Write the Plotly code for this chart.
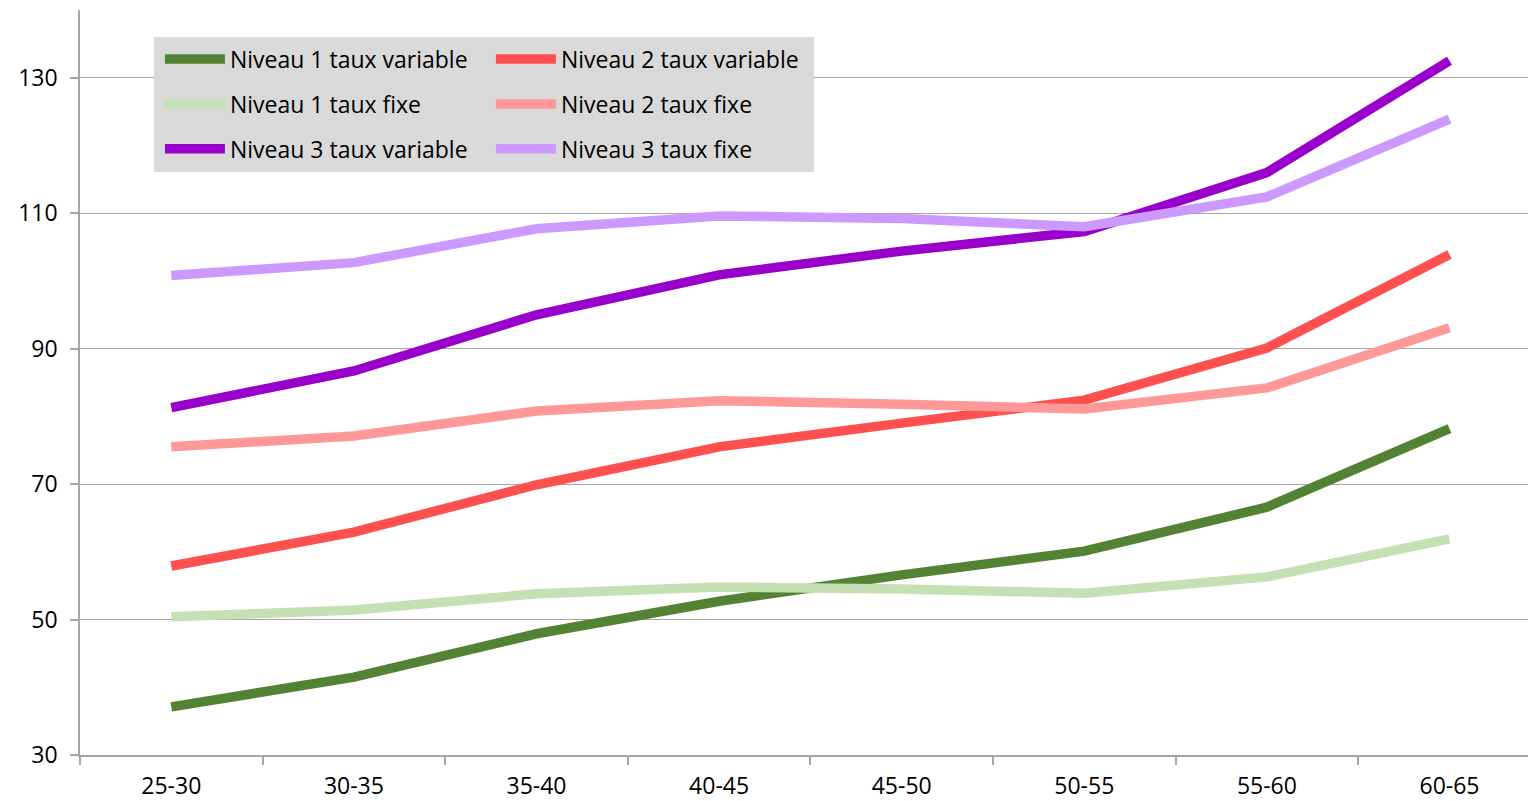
import plotly.graph_objects as go

# Age brackets on the category axis
age_groups = ["25-30", "30-35", "35-40", "40-45", "45-50", "50-55", "55-60", "60-65"]

# Series values per age bracket
niveau1_variable = [37.1, 41.5, 47.9, 52.7, 56.6, 60.1, 66.6, 78.2]
niveau1_fixe = [50.4, 51.4, 53.8, 54.8, 54.5, 53.9, 56.3, 61.9]
niveau2_variable = [57.9, 62.9, 69.9, 75.5, 79.0, 82.4, 90.1, 103.9]
niveau2_fixe = [75.5, 77.1, 80.8, 82.3, 81.8, 81.1, 84.2, 93.1]
niveau3_variable = [81.3, 86.7, 95.0, 100.9, 104.4, 107.3, 116.0, 132.5]
niveau3_fixe = [100.8, 102.7, 107.7, 109.6, 109.2, 108.0, 112.4, 123.9]

y_ticks = [30, 50, 70, 90, 110, 130]

# name, values, colour, legend column
series = [
    ("Niveau 1 taux variable", niveau1_variable, "#548235", "legend"),
    ("Niveau 1 taux fixe", niveau1_fixe, "#c5e0b4", "legend"),
    ("Niveau 2 taux variable", niveau2_variable, "#ff5050", "legend2"),
    ("Niveau 2 taux fixe", niveau2_fixe, "#ff9999", "legend2"),
    ("Niveau 3 taux variable", niveau3_variable, "#9900cc", "legend"),
    ("Niveau 3 taux fixe", niveau3_fixe, "#cc99ff", "legend2"),
]

fig = go.Figure()
for i, (name, values, color, legend_ref) in enumerate(series):
    fig.add_trace(go.Scatter(
        x=age_groups, y=values, name=name, mode="lines",
        line=dict(color=color, width=9.5),
        legend=legend_ref, legendgroup=f"g{i}",
    ))

axis_grey = "#a6a6a6"
font_family = "Open Sans, Lato, sans-serif"
font_size = 23

legend_common = dict(
    orientation="v",
    yanchor="top", y=0.963,
    xanchor="left",
    bgcolor="rgba(0,0,0,0)",
    font=dict(family=font_family, size=font_size, color="black"),
    tracegroupgap=12,
    itemwidth=60,
)

fig.update_layout(
    width=1528, height=801,
    margin=dict(l=80, r=0, t=10, b=46),
    paper_bgcolor="white", plot_bgcolor="white",
    font=dict(family=font_family, size=font_size, color="black"),
    showlegend=True,
    legend=dict(x=0.0552, **legend_common),
    legend2=dict(x=0.2838, **legend_common),
    shapes=[dict(
        type="rect", xref="paper", yref="paper",
        x0=0.0511, x1=0.5069, y0=0.7826, y1=0.9638,
        fillcolor="#d9d9d9", line=dict(width=0), layer="above",
    )],
    xaxis=dict(
        type="category",
        range=[-0.5, 7.43],
        automargin=False,
        showgrid=False,
        showline=True, linecolor=axis_grey, linewidth=1.5,
        ticks="outside", ticklen=8, tickcolor=axis_grey, tickwidth=1.5,
        tickson="boundaries",
        ticklabelstandoff=10,
        zeroline=False,
    ),
    yaxis=dict(
        range=[30, 140],
        tickvals=y_ticks,
        automargin=False,
        showgrid=True, gridcolor=axis_grey, gridwidth=1.2,
        showline=True, linecolor=axis_grey, linewidth=1.5,
        ticks="outside", ticklen=8, tickcolor=axis_grey, tickwidth=1.5,
        ticklabelstandoff=8,
        zeroline=False,
    ),
)

fig.write_html("out.html")
